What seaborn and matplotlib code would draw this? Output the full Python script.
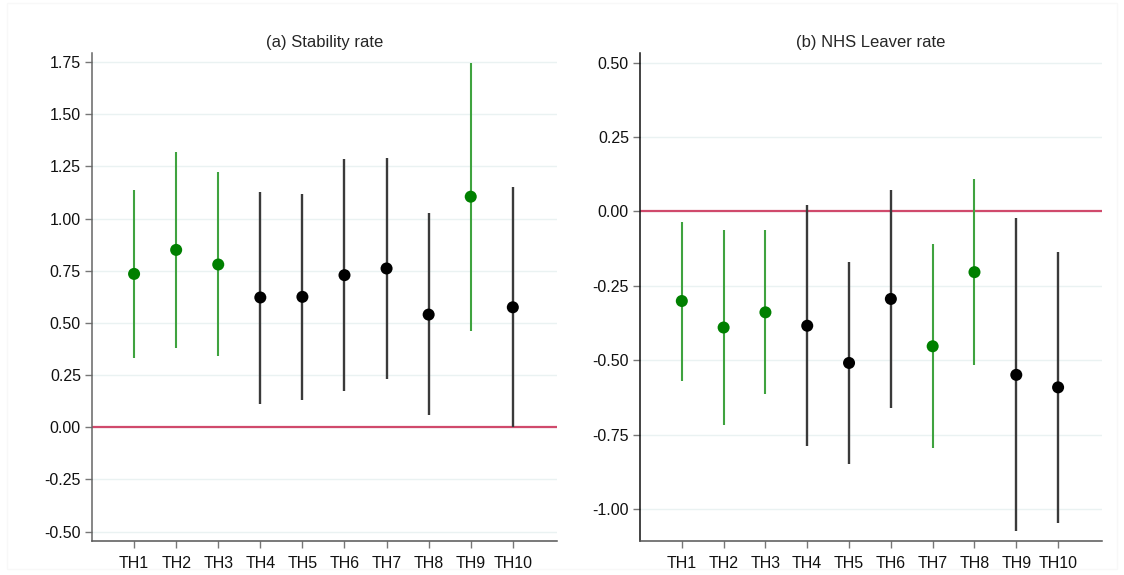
import matplotlib
matplotlib.use("Agg")
import matplotlib.pyplot as plt
import matplotlib.patches as mpatches
import seaborn as sns
import pandas as pd
import numpy as np

categories = ["TH1", "TH2", "TH3", "TH4", "TH5", "TH6", "TH7", "TH8", "TH9", "TH10"]

# (a) Stability rate
stab_est = [0.735, 0.85, 0.78, 0.622, 0.625, 0.729, 0.761, 0.54, 1.105, 0.575]
stab_hi = [1.137, 1.318, 1.222, 1.126, 1.116, 1.285, 1.288, 1.025, 1.747, 1.153]
stab_lo = [0.334, 0.382, 0.342, 0.113, 0.131, 0.174, 0.233, 0.059, 0.463, 0.0]
stab_sig = [True, True, True, False, False, False, False, False, True, False]
stab_ticks = [-0.50, -0.25, 0.00, 0.25, 0.50, 0.75, 1.00, 1.25, 1.50, 1.75]

# (b) NHS Leaver rate
leav_est = [-0.301, -0.39, -0.339, -0.384, -0.509, -0.294, -0.453, -0.204, -0.549, -0.591]
leav_hi = [-0.034, -0.062, -0.062, 0.021, -0.170, 0.073, -0.109, 0.108, -0.022, -0.135]
leav_lo = [-0.568, -0.717, -0.614, -0.789, -0.848, -0.661, -0.795, -0.516, -1.075, -1.045]
leav_sig = [True, True, True, False, False, False, True, True, False, False]
leav_ticks = [-1.00, -0.75, -0.50, -0.25, 0.00, 0.25, 0.50]

titles = ["(a) Stability rate", "(b) NHS Leaver rate"]

sns.set_theme(style="white")
plt.rcParams["font.family"] = ["Liberation Sans", "DejaVu Sans"]

fig = plt.figure(figsize=(11.24, 5.75), dpi=100)
fig.patches.append(mpatches.Rectangle((7/1124, 6/575), 1110/1124, 566/575,
                                      transform=fig.transFigure, fill=False,
                                      edgecolor="#f8f8f8", lw=1.0))
ax1 = fig.add_axes([92/1124, 1-541/575, 465/1124, (541-52.7)/575])
ax2 = fig.add_axes([640/1124, 1-541/575, 462/1124, (541-52.7)/575])

GREEN_PT = "#008000"
GREEN_LN = "#3fa33f"
BLACK_PT = "#000000"
BLACK_LN = "#3a3a3a"

def panel(ax, est, lo, hi, sig, ticks, ylim, title, spine_col):
    x = np.arange(1, len(categories) + 1)
    df = pd.DataFrame({"x": x, "est": est, "lo": lo, "hi": hi,
                       "sig": ["sig" if s else "ns" for s in sig]})
    for _, r in df.iterrows():
        ax.vlines(r["x"], r["lo"], r["hi"],
                  color=GREEN_LN if r["sig"] == "sig" else BLACK_LN,
                  lw=1.5 if r["sig"] == "sig" else 1.7, zorder=2)
    sns.scatterplot(data=df, x="x", y="est", hue="sig",
                    palette={"sig": GREEN_PT, "ns": BLACK_PT},
                    s=75, edgecolor="none", legend=False, ax=ax, zorder=3)
    ax.axhline(0, color="#d04a6c", lw=1.6, zorder=1.5)
    ax.set_xlim(0, 11.05)
    ax.set_ylim(*ylim)
    ax.set_yticks(ticks)
    ax.set_yticklabels([f"{t:.2f}" for t in ticks])
    ax.set_xticks(x)
    ax.set_xticklabels(categories)
    ax.set_xlabel("")
    ax.set_ylabel("")
    for t in ticks:
        ax.axhline(t, color="#eaf2f2", lw=1.0, zorder=0)
    ax.set_title(title, fontsize=12, pad=4)
    for s in ["top", "right"]:
        ax.spines[s].set_visible(False)
    ax.spines["left"].set_color(spine_col)
    ax.spines["left"].set_linewidth(1.1)
    ax.spines["bottom"].set_color("#555555")
    ax.spines["bottom"].set_linewidth(1.1)
    ax.tick_params(axis="both", which="both", direction="out", length=5,
                   width=1.0, color="#777777", labelsize=11.5, labelcolor="#111111",
                   bottom=True, left=True, pad=3)
    ax.tick_params(axis="x", pad=6)

panel(ax1, stab_est, stab_lo, stab_hi, stab_sig, stab_ticks, (-0.545, 1.795), titles[0], "#666666")
panel(ax2, leav_est, leav_lo, leav_hi, leav_sig, leav_ticks, (-1.107, 0.533), titles[1], "#111111")

fig.savefig("out.png", dpi=100, facecolor="white")
